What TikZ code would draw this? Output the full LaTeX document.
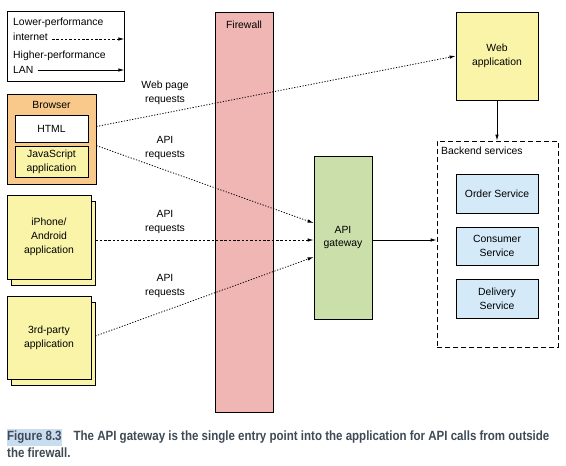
\documentclass[tikz,border=0pt]{standalone}
\usepackage{fontspec}
\setmainfont{Liberation Sans}
\newfontfamily\capfont[FakeStretch=0.86]{Liberation Sans}
\usepackage{tikz}
\usetikzlibrary{arrows.meta,shadows}

\definecolor{browserorange}{HTML}{F8C98A}
\definecolor{appyellow}{HTML}{FAF4A8}
\definecolor{firewallpink}{HTML}{EFB6B4}
\definecolor{gatewaygreen}{HTML}{CBDFAB}
\definecolor{serviceblue}{HTML}{D4EAF8}
\definecolor{captionblue}{HTML}{C9DDF1}
\definecolor{captiongray}{HTML}{3F4A55}

\begin{document}
\begin{tikzpicture}[x=1pt,y=-1pt,
  >={Latex[length=6pt,width=3.5pt]},
  every node/.style={font=\fontsize{10.4}{13.8}\selectfont},
  box/.style={draw=black,thick,rectangle,inner sep=0pt,align=center},
  label/.style={inner sep=0pt,align=center},
  appbox/.style={box,fill=appyellow,copy shadow={shadow xshift=4pt,shadow yshift=-6pt}},
  svcbox/.style={box,fill=serviceblue,minimum width=82pt},
  slowlink/.style={thick,dash pattern=on 1.2pt off 1.6pt,->},
  fastlink/.style={thick,->}]
\useasboundingbox (0,0) rectangle (566,466);

% legend
\node[box,minimum width=117pt,minimum height=70pt] (legend) at (65.5,46) {};
\node[label,anchor=west] (lowperf) at (13,23) {Lower-performance};
\node[label,anchor=west] (inet) at (13,37) {internet};
\node[label,anchor=west] (highperf) at (13,56) {Higher-performance};
\node[label,anchor=west] (lan) at (13,70) {LAN};
\draw[thick,dash pattern=on 2.5pt off 1.8pt,->] ([xshift=4pt,yshift=-2pt]inet.east) -- ([yshift=-2pt]inet.east -| legend.east);
\draw[fastlink] ([xshift=4pt]lan.east) -- (lan.east -| legend.east);

% firewall
\node[box,fill=firewallpink,minimum width=58pt,minimum height=400pt] (firewall) at (244,212) {};
\node[label] (fwlabel) at (244,25) {Firewall};

% clients
\node[box,fill=browserorange,minimum width=89pt,minimum height=90pt] (browser) at (51.5,139) {};
\node[label] (brlabel) at (51.5,105) {Browser};
\node[box,fill=white,minimum width=73pt,minimum height=27pt] (html) at (51.5,128.5) {HTML};
\node[box,fill=appyellow,minimum width=73pt,minimum height=31pt] (js) at (51.5,161.5) {JavaScript\\application};
\node[appbox,minimum width=84pt,minimum height=84pt] (iphone) at (49,237) {iPhone/\\Android\\application};
\node[appbox,minimum width=84pt,minimum height=83pt] (third) at (49,337.5) {3rd-party\\application};

% server side
\node[box,fill=appyellow,minimum width=82pt,minimum height=88pt] (webapp) at (497,56) {Web\\application};
\node[box,fill=gatewaygreen,minimum width=58pt,minimum height=163pt] (gateway) at (343,237.5) {API\\gateway};
\node[box,dash pattern=on 5pt off 3pt,minimum width=121pt,minimum height=206pt] (backend) at (497.5,244) {};
\node[label,anchor=west] (belabel) at (441,151) {Backend services};
\node[svcbox,minimum height=39pt] (order) at (497,193.5) {Order Service};
\node[svcbox,minimum height=38pt] (consumer) at (497,246) {Consumer\\Service};
\node[svcbox,minimum height=39pt] (delivery) at (497,298.5) {Delivery\\Service};

% requests
\draw[slowlink] ([yshift=2pt]html.east -| browser.east) -- (webapp.west);
\draw[slowlink] (js.north -| browser.east) -- ([yshift=14.5pt]gateway.west);
\draw[thick,dash pattern=on 2.5pt off 1.8pt,->] ([xshift=4pt,yshift=-3pt]iphone.east) -- ([yshift=-3pt]iphone.east -| gateway.west);
\draw[slowlink] ([xshift=4pt,yshift=1.5pt]third.east) -- ([yshift=-19.5pt]gateway.west);
\draw[fastlink] ([yshift=-2.5pt]gateway.east) -- ([yshift=-2.5pt]gateway.east -| backend.west);
\draw[fastlink] (webapp.south) -- (webapp.south |- backend.north);

\node[label] (weblabel) at (165,93) {Web page\\requests};
\node[label] (jslabel) at (165,148) {API\\requests};
\node[label] (iphlabel) at (165,222) {API\\requests};
\node[label] (thirdlabel) at (165,286) {API\\requests};

% caption
\fill[captionblue] (7,429) rectangle (62,446);
\node[inner sep=0pt,anchor=west,text=captiongray,font=\capfont\bfseries\fontsize{13.4}{15}\selectfont] (caption1) at (7,437.5)
  {Figure 8.3\hspace{12pt}The API gateway is the single entry point into the application for API calls from outside};
\node[inner sep=0pt,anchor=west,text=captiongray,font=\capfont\bfseries\fontsize{13.4}{15}\selectfont] (caption2) at (7,452.5)
  {the firewall.};
\end{tikzpicture}
\end{document}
